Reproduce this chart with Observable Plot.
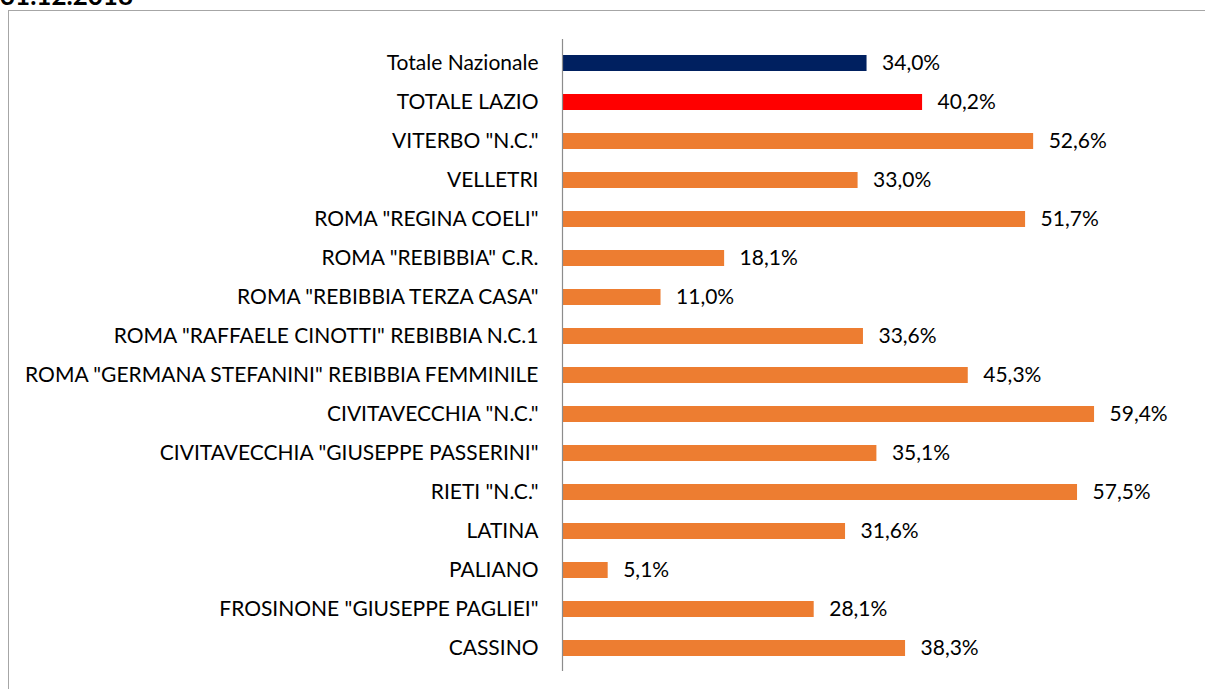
<!DOCTYPE html>
<html>
<head>
<meta charset="utf-8">
<script src="https://cdn.jsdelivr.net/npm/d3@7"></script>
<script src="https://cdn.jsdelivr.net/npm/@observablehq/plot@0.6"></script>
<style>
  html, body { margin: 0; padding: 0; background: #fff; }
  #wrap { position: relative; width: 1205px; height: 689px; overflow: hidden; font-family: Lato, "Open Sans", sans-serif; }
  #frame { position: absolute; left: 8px; top: 10px; width: 1300px; height: 800px; border: 1.5px solid #a6a6a6; box-sizing: border-box; }
  #title { position: absolute; left: 0; top: -18px; font-size: 26px; font-weight: bold; color: #000; line-height: 26px; white-space: nowrap; }
  #chart { position: absolute; left: 0; top: 0; }
</style>
</head>
<body>
<div id="wrap">
  <div id="frame"></div>
  <div id="title">31.12.2018</div>
  <div id="chart"></div>
</div>
<script>
const categories = [
  "Totale Nazionale",
  "TOTALE LAZIO",
  "VITERBO \"N.C.\"",
  "VELLETRI",
  "ROMA \"REGINA COELI\"",
  "ROMA \"REBIBBIA\" C.R.",
  "ROMA \"REBIBBIA TERZA CASA\"",
  "ROMA \"RAFFAELE CINOTTI\" REBIBBIA N.C.1",
  "ROMA \"GERMANA STEFANINI\" REBIBBIA FEMMINILE",
  "CIVITAVECCHIA \"N.C.\"",
  "CIVITAVECCHIA \"GIUSEPPE PASSERINI\"",
  "RIETI \"N.C.\"",
  "LATINA",
  "PALIANO",
  "FROSINONE \"GIUSEPPE PAGLIEI\"",
  "CASSINO"
];
const values = [34.0, 40.2, 52.6, 33.0, 51.7, 18.1, 11.0, 33.6, 45.3, 59.4, 35.1, 57.5, 31.6, 5.1, 28.1, 38.3];
const groups = ["Nazionale", "Lazio", "Istituto", "Istituto", "Istituto", "Istituto", "Istituto", "Istituto",
  "Istituto", "Istituto", "Istituto", "Istituto", "Istituto", "Istituto", "Istituto", "Istituto"];

const data = categories.map((c, i) => ({ name: c, value: values[i], group: groups[i] }));
const fmt = v => v.toFixed(1).replace(".", ",") + "%";

const chart = Plot.plot({
  width: 1205,
  height: 689,
  marginTop: 39,
  marginBottom: 18,
  marginLeft: 562,
  marginRight: 16,
  style: { fontFamily: "Lato, 'Open Sans', sans-serif", fontSize: "21px", color: "#000", background: "transparent" },
  x: { domain: [0, 70], axis: null },
  y: { domain: categories, paddingInner: 0.6, paddingOuter: 0.3, label: null },
  color: { domain: ["Nazionale", "Lazio", "Istituto"], range: ["#002060", "#ff0000", "#ed7d31"] },
  marks: [
    Plot.barX(data, { y: "name", x: "value", fill: "group" }),
    Plot.ruleX([0], { stroke: "#8c8c8c", strokeWidth: 1.2 }),
    Plot.text(data, { y: "name", x: "value", text: d => fmt(d.value), textAnchor: "start", dx: 15, fill: "#000", fontSize: 21 }),
    Plot.axisY({ tickSize: 0, tickPadding: 24, label: null, fontSize: 21 })
  ]
});
document.getElementById("chart").appendChild(chart);
</script>
</body>
</html>
